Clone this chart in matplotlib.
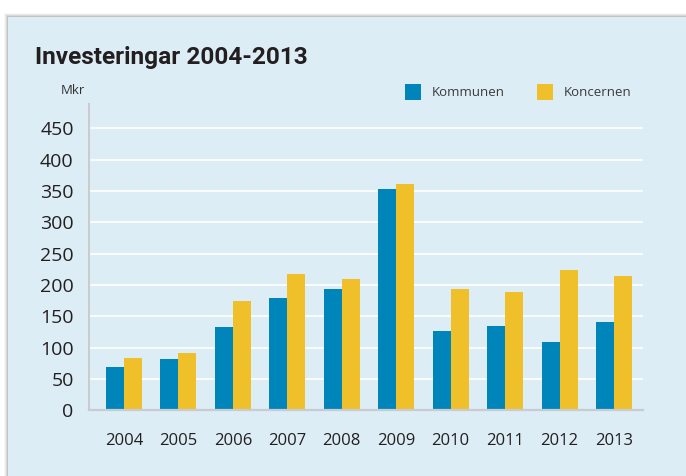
import matplotlib
matplotlib.use("Agg")
import matplotlib.pyplot as plt
from matplotlib.patches import Rectangle
import numpy as np

years = ["2004", "2005", "2006", "2007", "2008", "2009", "2010", "2011", "2012", "2013"]
kommunen = [69, 82, 133, 179, 193, 353, 127, 135, 109, 141]
koncernen = [84, 91, 175, 218, 210, 361, 194, 189, 224, 214]
yticks = [0, 50, 100, 150, 200, 250, 300, 350, 400, 450]

W, H = 686, 476
fig = plt.figure(figsize=(W / 100, H / 100), dpi=100)
fig.patch.set_facecolor("white")

panel_col = "#ddedf6"
# shadow
for i, a in enumerate([0.05, 0.09, 0.14, 0.2]):
    off = 4 - i
    fig.patches.append(Rectangle(((8 - off) / W, 0), 1, 1 - (16.7 - off) / H,
                                 transform=fig.transFigure, facecolor="#707070",
                                 alpha=a, edgecolor="none", zorder=0))
fig.patches.append(Rectangle((8 / W, 0), 1, 1 - 16.7 / H, transform=fig.transFigure,
                             facecolor=panel_col, edgecolor="none", zorder=1))

ax = fig.add_axes([89 / W, 1 - 410.4 / H, (643 - 89) / W, (410.4 - 104) / H])
ax.set_facecolor("none")
ax.set_zorder(2)

x = np.arange(len(years))
bw = 0.33
blue = "#0085ba"
yellow = "#f0c02a"
ax.bar(x - bw / 2, kommunen, width=bw, color=blue, zorder=3, label="Kommunen")
ax.bar(x + bw / 2, koncernen, width=bw, color=yellow, zorder=3, label="Koncernen")

ax.set_xlim(-0.643, 9.533)
ax.set_ylim(0, 488.7)
ax.set_yticks(yticks)
ax.set_yticklabels([str(v) for v in yticks])
ax.set_xticks(x)
ax.set_xticklabels(years)

for v in yticks[1:]:
    ax.axhline(v, color="white", lw=1.2, zorder=1)

for s in ["top", "right"]:
    ax.spines[s].set_visible(False)
ax.spines["left"].set_color("#c8ccd0")
ax.spines["left"].set_linewidth(1.5)
ax.spines["bottom"].set_color("#c8ccd0")
ax.spines["bottom"].set_linewidth(1.6)
ax.spines["bottom"].set_zorder(4)

txt = "#231f20"
ax.tick_params(axis="y", length=0, pad=11, labelsize=14, labelcolor=txt)
ax.tick_params(axis="x", length=0, pad=16.5, labelsize=12, labelcolor=txt)
for lab in ax.get_yticklabels() + ax.get_xticklabels():
    lab.set_family("Open Sans")

fig.text(35 / W, 1 - 64 / H, "Investeringar 2004-2013", family="Roboto",
         fontweight="bold", fontsize=17.6, color=txt, va="baseline", ha="left", zorder=5)
fig.text(85 / W, 1 - 90 / H, "Mkr", family="Open Sans", fontsize=9.5, color="#333333",
         ha="right", va="center", zorder=5)

# legend
for (x0, col, lab) in [(405, blue, "Kommunen"), (537, yellow, "Koncernen")]:
    fig.patches.append(Rectangle((x0 / W, 1 - 100 / H), 16 / W, 16 / H, transform=fig.transFigure,
                                 facecolor=col, edgecolor="none", zorder=5))
    fig.text((x0 + 26.5) / W, 1 - 92 / H, lab, family="Open Sans", fontsize=9.5, color="#3a3a3a",
             ha="left", va="center", zorder=5)

fig.savefig("out.png", dpi=100, facecolor=fig.get_facecolor())
